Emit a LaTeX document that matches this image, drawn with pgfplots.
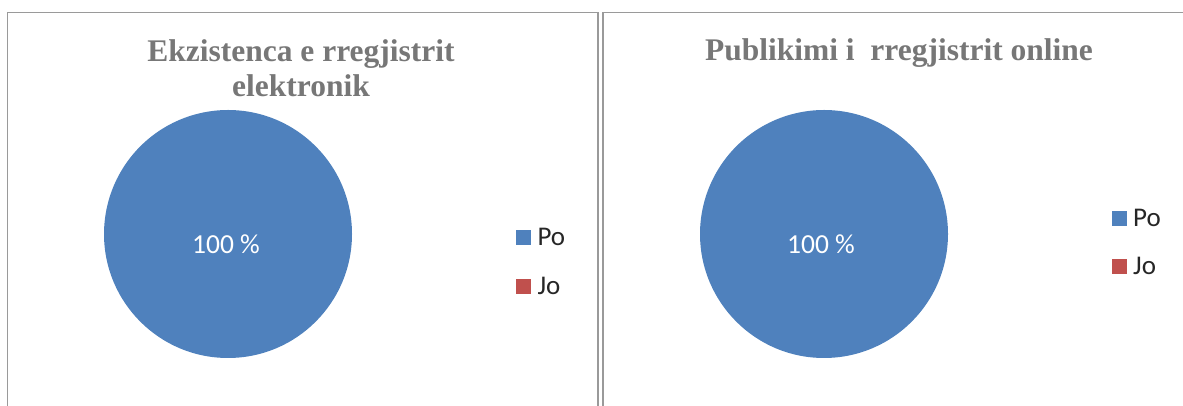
\documentclass[border=0pt]{standalone}
\usepackage{pgfplots}
\pgfplotsset{compat=1.18}
\usepackage{pgfplotstable}
\usepackage{fontspec}
\setmainfont{Liberation Serif}
\newfontfamily\carlito{Carlito}
\definecolor{pieblue}{HTML}{4F81BD}
\definecolor{piered}{HTML}{C0504D}
\definecolor{titlegray}{HTML}{777777}
\definecolor{framegray}{HTML}{9A9A9A}

\pgfplotstableread{
label value
Po 100
Jo 0
}\dataA
\pgfplotstableread{
label value
Po 100
Jo 0
}\dataB

\begin{document}
\pgfplotstablegetelem{0}{value}\of\dataA \global\let\poA\pgfplotsretval
\pgfplotstablegetelem{0}{value}\of\dataB \global\let\poB\pgfplotsretval
\begin{tikzpicture}
\pgfplotsset{panel/.style={hide axis, scale only axis, clip=false, ymin=0, ymax=406, height=406pt, anchor=south west,
 legend style={draw=none, fill=none, inner sep=0pt, outer sep=0pt, cells={anchor=base west},
   nodes={inner sep=0pt, outer sep=0pt, text height=18pt, text depth=0pt, font=\carlito\fontsize{27}{27}\selectfont, text=black!85},
   column sep=6.5pt, anchor=north west}}}

\begin{axis}[panel, at={(0pt,0pt)}, width=600pt, xmin=0, xmax=600,
  legend image code/.code={\fill[#1, draw=none] (0pt,0.8pt) rectangle (15pt,15.8pt);},
  legend style={at={(axis cs:516,178)}, row sep=31pt}]
\addlegendimage{fill=pieblue}\addlegendentry{Po}
\addlegendimage{fill=piered}\addlegendentry{Jo}
\fill[pieblue] (axis cs:228,172) -- ++(90:124pt) arc[start angle=90, end angle={90-3.6*\poA}, radius=124pt] -- cycle;
\node[font=\carlito\fontsize{27.5}{27.5}\selectfont, text=white, anchor=base] at (axis cs:226,152.7) {\poA{} \%};
\draw[framegray, line width=1.5pt] (axis cs:7.5,0) -- (axis cs:7.5,393.5) -- (axis cs:597.8,393.5) -- (axis cs:597.8,0);
\node[text=titlegray, font=\bfseries\fontsize{31.5}{35}\selectfont, anchor=base] at (axis cs:301,344.3) {Ekzistenca e rregjistrit};
\node[text=titlegray, font=\bfseries\fontsize{31.5}{35}\selectfont, anchor=base] at (axis cs:301,309.3) {elektronik};
\end{axis}

\begin{axis}[panel, at={(600pt,0pt)}, width=583pt, xmin=600, xmax=1183,
  legend image code/.code={\fill[#1, draw=none] (0pt,0.8pt) rectangle (15pt,15.8pt);},
  legend style={at={(axis cs:1111.7,197.3)}, row sep=30pt}]
\addlegendimage{fill=pieblue}\addlegendentry{Po}
\addlegendimage{fill=piered}\addlegendentry{Jo}
\fill[pieblue] (axis cs:824,172) -- ++(90:124pt) arc[start angle=90, end angle={90-3.6*\poB}, radius=124pt] -- cycle;
\node[font=\carlito\fontsize{27.5}{27.5}\selectfont, text=white, anchor=base] at (axis cs:821,152) {\poB{} \%};
\draw[framegray, line width=1.5pt] (axis cs:603,0) -- (axis cs:603,393.5) -- (axis cs:1183,393.5);
\node[text=titlegray, font=\bfseries\fontsize{31.5}{35}\selectfont, anchor=base] at (axis cs:899,345.5) {Publikimi i~ rregjistrit online};
\end{axis}
\pgfresetboundingbox
\path[use as bounding box] (0,0) rectangle (1183pt,406pt);
\end{tikzpicture}
\end{document}
